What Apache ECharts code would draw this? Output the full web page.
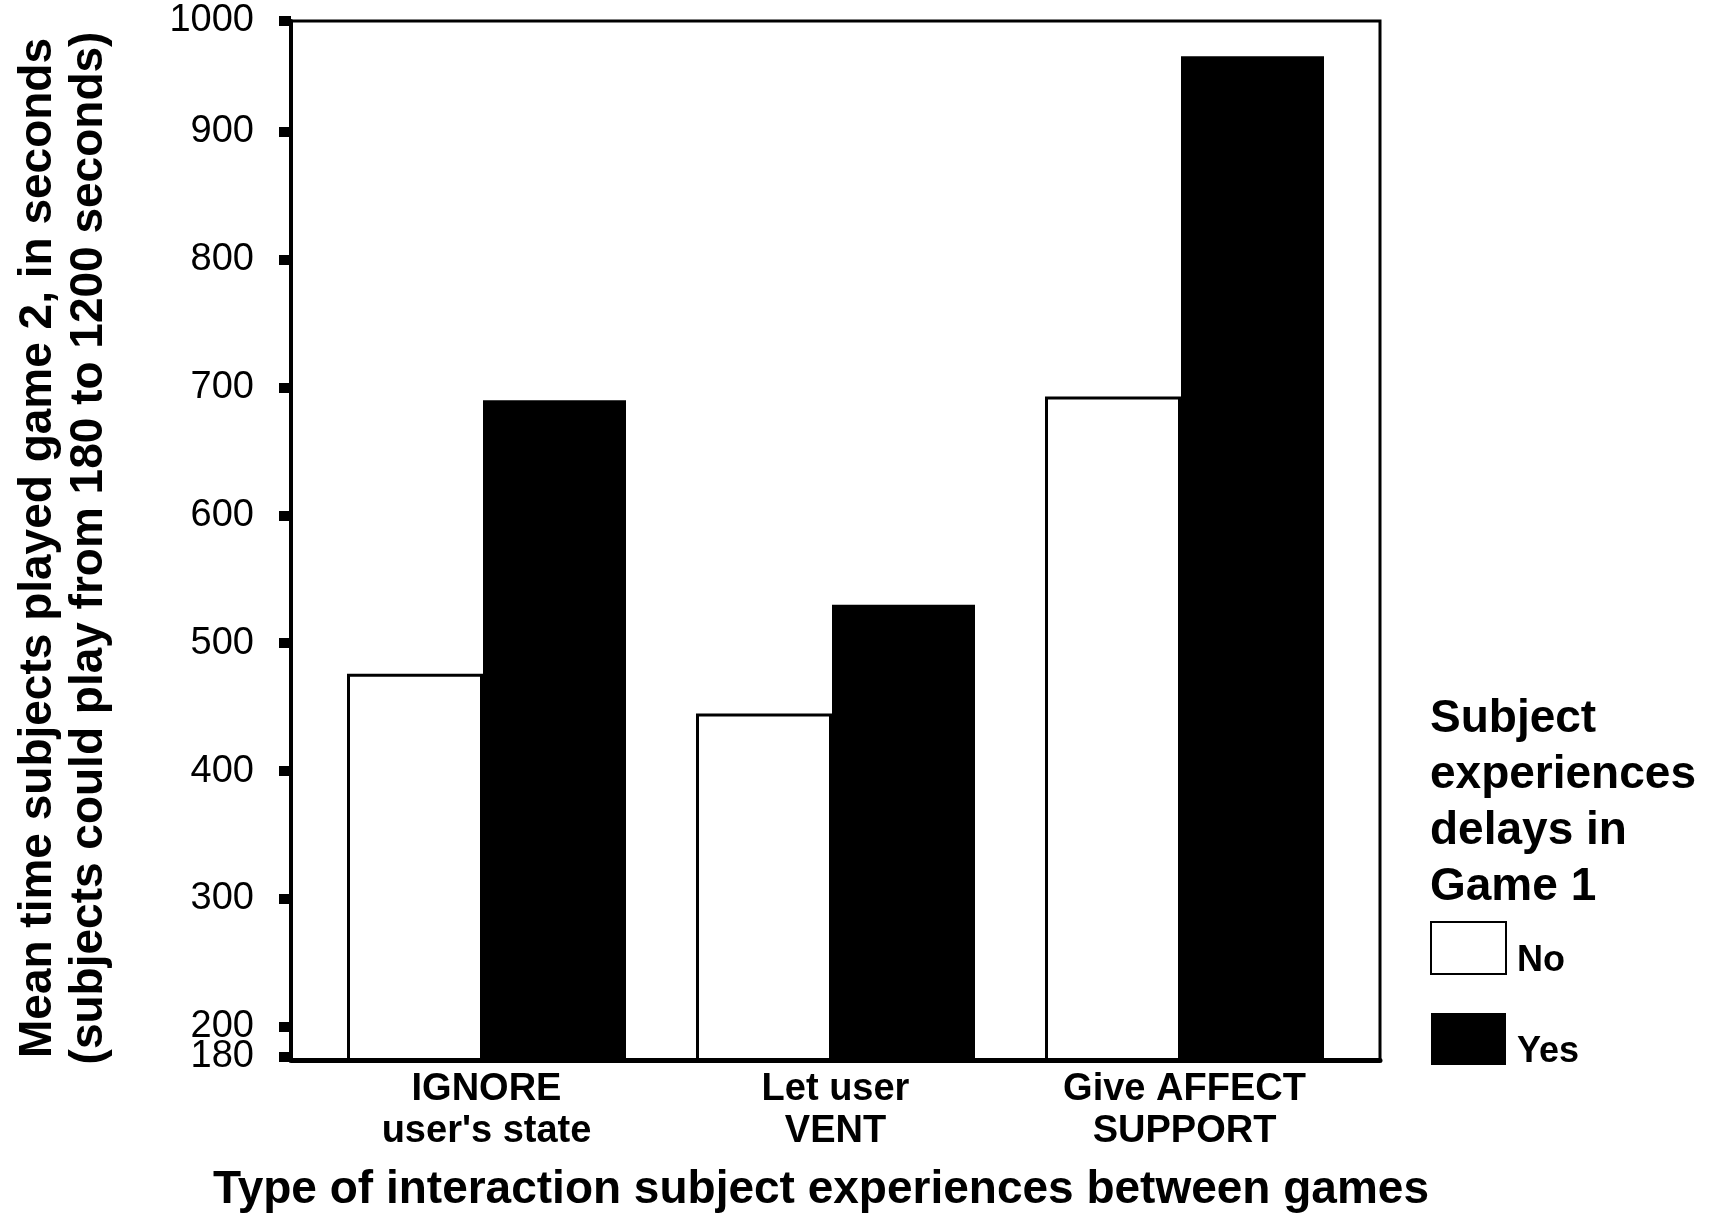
<!DOCTYPE html>
<html>
<head>
<meta charset="utf-8">
<script src="https://cdn.jsdelivr.net/npm/echarts@6/dist/echarts.min.js"></script>
<style>
html,body{margin:0;padding:0;background:#fff;}
#c{width:1711px;height:1217px;}
</style>
</head>
<body>
<div id="c"></div>
<script>
// ---- data ----
const categories = ["IGNORE\nuser's state", "Let user\nVENT", "Give AFFECT\nSUPPORT"];
const seriesNames = ['No', 'Yes'];
const noValues = [476, 445, 693];
const yesValues = [690, 530, 959];
const yTickValues = [200, 300, 400, 500, 600, 700, 800, 900];
const yBottomLabel = '180';
const yTopLabel = '1000';
const yAxisMin = 174;
const yAxisMax = 986.6;
const yBottomTickAt = 176.5;
const yTitleLines = ['Mean time subjects played game 2, in seconds', '(subjects could play from 180 to 1200 seconds)'];
const xTitle = 'Type of interaction subject experiences between games';
const legendTitle = 'Subject\nexperiences\ndelays in\nGame 1';

// ---- chart ----
const FONT = '"Liberation Sans", Arial, Helvetica, sans-serif';
const mainTicks = yTickValues.concat([yAxisMax]);
function yLabel(v) {
  if (Math.abs(v - yBottomTickAt) < 1e-6) return yBottomLabel;
  if (Math.abs(v - yAxisMax) < 1e-6) return yTopLabel;
  return String(v);
}
const yLabelStyle = {margin: 37, fontFamily: FONT, fontSize: 38, color: '#000', formatter: yLabel,
  showMinLabel: true, showMaxLabel: true};

const chart = echarts.init(document.getElementById('c'), null, {renderer: 'canvas'});
const option = {
  animation: false,
  backgroundColor: '#fff',
  title: {
    text: legendTitle, left: 1430, top: 691, padding: 0,
    textStyle: {fontFamily: FONT, fontSize: 46, fontWeight: 'bold', lineHeight: 56, color: '#000'}
  },
  legend: {
    data: seriesNames, orient: 'vertical', left: 1430, top: 921, padding: 0,
    itemWidth: 75, itemHeight: 52, itemGap: 34, icon: 'rect', selectedMode: false,
    formatter: '{t|{name}}',
    textStyle: {
      fontFamily: FONT, fontSize: 36, fontWeight: 'bold', color: '#000',
      rich: {t: {fontFamily: FONT, fontSize: 36, fontWeight: 'bold', color: '#000', padding: [26, 0, 0, 6]}}
    }
  },
  grid: [
    {left: 291, right: 331, top: 21, bottom: 157, show: true, borderColor: '#000', borderWidth: 3, backgroundColor: 'transparent'},
    {left: 312, right: 352, top: 21, bottom: 157}
  ],
  xAxis: [
    {
      gridIndex: 0, type: 'value', min: 0, max: 1, z: 5,
      axisLine: {show: true, onZero: false, lineStyle: {color: '#000', width: 5}},
      axisTick: {show: false}, axisLabel: {show: false}, splitLine: {show: false}
    },
    {
      gridIndex: 1, type: 'category', data: categories,
      axisLine: {show: false}, axisTick: {show: false}, splitLine: {show: false},
      axisLabel: {
        interval: 0, margin: 9, fontFamily: FONT, fontSize: 38, fontWeight: 'bold',
        lineHeight: 42, color: '#000'
      }
    }
  ],
  yAxis: [
    {
      gridIndex: 0, type: 'value', position: 'left', min: yAxisMin, max: yAxisMax, z: 5,
      axisLine: {show: true, lineStyle: {color: '#000', width: 4}},
      axisTick: {show: true, customValues: mainTicks, length: 12, lineStyle: {color: '#000', width: 10}},
      axisLabel: Object.assign({customValues: mainTicks}, yLabelStyle),
      splitLine: {show: false}
    },
    {gridIndex: 1, type: 'value', min: yAxisMin, max: yAxisMax, show: false, splitLine: {show: false}},
    {
      gridIndex: 0, type: 'value', position: 'left', min: yAxisMin, max: yAxisMax, z: 5,
      axisLine: {show: false},
      axisTick: {show: true, customValues: [yBottomTickAt], length: 12, lineStyle: {color: '#000', width: 10}},
      axisLabel: Object.assign({customValues: [yBottomTickAt]}, yLabelStyle),
      splitLine: {show: false}
    }
  ],
  series: [
    {
      name: seriesNames[0], type: 'bar', xAxisIndex: 1, yAxisIndex: 1, data: noValues,
      barWidth: 136, barGap: 0,
      itemStyle: {color: '#fff', borderColor: '#000', borderWidth: 3}
    },
    {
      name: seriesNames[1], type: 'bar', xAxisIndex: 1, yAxisIndex: 1, data: yesValues,
      barWidth: 143, barGap: 0,
      itemStyle: {color: '#000'}
    }
  ],
  graphic: [
    {
      type: 'text', x: 38, y: 548, rotation: Math.PI / 2,
      style: {text: yTitleLines[0], fontFamily: FONT, fontSize: 46, fontWeight: 'bold', fill: '#000', align: 'center', verticalAlign: 'middle'}
    },
    {
      type: 'text', x: 89, y: 548, rotation: Math.PI / 2,
      style: {text: yTitleLines[1], fontFamily: FONT, fontSize: 46, fontWeight: 'bold', fill: '#000', align: 'center', verticalAlign: 'middle'}
    },
    {
      type: 'text', x: 821, y: 1190,
      style: {text: xTitle, fontFamily: FONT, fontSize: 46, fontWeight: 'bold', fill: '#000', align: 'center', verticalAlign: 'middle'}
    }
  ]
};
chart.setOption(option);
</script>
</body>
</html>
